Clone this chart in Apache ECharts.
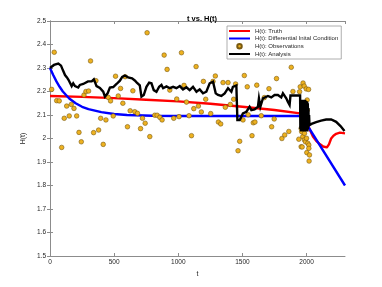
<!DOCTYPE html>
<html><head><meta charset="utf-8">
<script src="https://cdn.jsdelivr.net/npm/echarts@6/dist/echarts.min.js"></script>
<style>html,body{margin:0;padding:0;background:#fff;}#c{width:382px;height:287px;}</style>
</head><body><div id="c"></div>
<script>
// ---- data ----
const xTicks = [0, 500, 1000, 1500, 2000];
const yTicks = [1.5, 1.6, 1.7, 1.8, 1.9, 2.0, 2.1, 2.2, 2.3, 2.4, 2.5];

const truthT = [0, 250, 500, 750, 1000, 1250, 1500, 1750, 1950, 1975, 2000, 2025, 2050, 2075, 2100, 2130, 2158, 2175, 2192, 2210, 2231, 2260, 2300];
const truthH = [2.181, 2.177, 2.172, 2.165, 2.158, 2.148, 2.135, 2.121, 2.107, 2.10, 2.075, 2.038, 2.008, 1.99, 1.978, 1.966, 1.962, 1.975, 2.0, 2.012, 2.02, 2.025, 2.022];

const diffT = [0, 25, 50, 75, 100, 150, 200, 250, 300, 400, 500, 600, 800, 1000, 1500, 1960, 2300];
const diffH = [2.30, 2.27, 2.243, 2.22, 2.20, 2.17, 2.15, 2.135, 2.125, 2.112, 2.104, 2.10, 2.097, 2.096, 2.096, 2.096, 1.80];

const obsT = [13, 33, 52, 72, 91, 111, 130, 150, 166, 187, 208, 226, 244, 265, 280, 301, 316, 340, 358, 379, 395, 415, 436, 454, 472, 493, 511, 532, 550, 568, 586, 604, 625, 646, 661, 682, 706, 721, 742, 757, 778, 817, 835, 856, 874, 890, 913, 934, 965, 988, 1006, 1025, 1045, 1064, 1084, 1103, 1121, 1139, 1157, 1180, 1196, 1214, 1253, 1271, 1289, 1313, 1331, 1349, 1367, 1388, 1406, 1432, 1447, 1466, 1479, 1505, 1515, 1538, 1545, 1575, 1585, 1598, 1612, 1647, 1671, 1707, 1728, 1748, 1766, 1808, 1830, 1862, 1881, 1894, 1940, 1946, 1951, 1958, 1958, 1962, 1966, 1971, 1973, 1982, 1984, 1984, 1990, 1992, 1998, 2000, 2000, 2002, 2005, 2005, 2010, 2016, 2018, 2018, 2020, 2023];
const obsH = [2.209, 2.367, 2.161, 2.160, 1.962, 2.086, 2.138, 2.096, 2.145, 2.128, 2.096, 2.026, 1.986, 2.185, 2.200, 2.202, 2.330, 2.025, 2.246, 2.036, 2.086, 1.975, 2.079, 2.175, 2.160, 2.096, 2.265, 2.181, 2.213, 2.150, 2.263, 2.050, 2.118, 2.203, 2.114, 2.107, 2.042, 2.086, 2.065, 2.450, 2.008, 2.099, 2.099, 2.090, 2.079, 2.355, 2.294, 2.206, 2.086, 2.168, 2.093, 2.365, 2.226, 2.155, 2.097, 2.012, 2.127, 2.306, 2.138, 2.113, 2.243, 2.167, 2.106, 2.243, 2.266, 2.070, 2.062, 2.238, 2.133, 2.238, 2.145, 2.167, 2.232, 1.948, 1.988, 2.079, 2.268, 2.220, 2.101, 2.012, 2.067, 2.070, 2.227, 2.097, 2.174, 2.212, 2.050, 2.083, 2.255, 2.000, 2.015, 2.030, 2.303, 2.200, 1.997, 2.199, 2.220, 2.043, 1.965, 2.029, 1.964, 2.008, 2.236, 2.223, 2.022, 1.994, 2.060, 1.986, 2.211, 2.079, 2.001, 1.940, 2.164, 2.120, 1.980, 2.209, 1.972, 1.958, 1.904, 1.930];

const anaT = [0, 31, 65, 86, 101, 117, 132, 144, 156, 169, 181, 195, 220, 233, 241, 259, 272, 296, 325, 342, 350, 363, 389, 415, 428, 449, 467, 493, 519, 545, 563, 584, 609, 640, 661, 677, 700, 713, 731, 752, 773, 791, 809, 830, 851, 869, 882, 908, 934, 960, 986, 1012, 1037, 1064, 1089, 1115, 1142, 1167, 1193, 1219, 1245, 1271, 1292, 1310, 1336, 1362, 1388, 1414, 1426, 1440, 1453, 1461, 1479, 1492, 1504, 1531, 1543, 1556, 1570, 1595, 1621, 1629, 1640, 1660, 1673, 1699, 1725, 1751, 1777, 1803, 1816, 1829, 1842, 1854, 1868, 1875, 1907, 1950, 1952, 1955, 1957, 1960, 1962, 1965, 1967, 1970, 1972, 1975, 1977, 1980, 1982, 1985, 1987, 1990, 1992, 1995, 1997, 2000, 2002, 2005, 2007, 2010, 2012, 2015, 2017, 2020, 2023, 2039, 2075, 2114, 2153, 2192, 2231, 2265, 2296];
const anaH = [2.30, 2.313, 2.319, 2.31, 2.29, 2.27, 2.26, 2.25, 2.242, 2.223, 2.235, 2.223, 2.217, 2.228, 2.235, 2.232, 2.24, 2.243, 2.243, 2.252, 2.253, 2.223, 2.215, 2.199, 2.178, 2.192, 2.217, 2.219, 2.232, 2.246, 2.262, 2.268, 2.26, 2.256, 2.247, 2.238, 2.226, 2.178, 2.185, 2.22, 2.238, 2.235, 2.206, 2.199, 2.22, 2.228, 2.214, 2.222, 2.214, 2.22, 2.214, 2.223, 2.209, 2.218, 2.206, 2.22, 2.199, 2.209, 2.192, 2.199, 2.235, 2.242, 2.192, 2.185, 2.181, 2.192, 2.214, 2.199, 2.22, 2.228, 2.226, 2.079, 2.079, 2.093, 2.107, 2.114, 2.121, 2.135, 2.121, 2.124, 2.135, 2.171, 2.135, 2.171, 2.178, 2.181, 2.175, 2.185, 2.185, 2.175, 2.192, 2.192, 2.171, 2.157, 2.143, 2.183, 2.183, 2.183, 2.04, 2.16, 2.03, 2.165, 2.05, 2.15, 2.03, 2.16, 2.04, 2.165, 2.035, 2.155, 2.03, 2.16, 2.045, 2.165, 2.03, 2.15, 2.035, 2.16, 2.04, 2.155, 2.03, 2.15, 2.04, 2.13, 2.05, 2.10, 2.057, 2.062, 2.07, 2.076, 2.081, 2.081, 2.071, 2.053, 2.032];

const names = ['H(t): Truth', 'H(t): Differential Inital Condition', 'H(t): Observations', 'H(t): Analysis'];

function zip(a, b) { return a.map((v, i) => [v, b[i]]); }

const FONT = 'Liberation Sans, Arial, sans-serif';
const AX = '#8c8c8c';
const TXT = '#262626';
const LINE_ICON = 'path://M0,0L42,0L42,4L0,4Z';

const chart = echarts.init(document.getElementById('c'), null, { renderer: 'canvas' });
const baseX = {
  type: 'value', min: 0, max: 2300, interval: 500,
  axisLine: { show: true, lineStyle: { color: AX, width: 1 } },
  axisTick: { show: true, inside: true, length: 3, lineStyle: { color: AX } },
  splitLine: { show: false }
};
const baseY = {
  type: 'value', min: 1.5, max: 2.5, interval: 0.1,
  axisLine: { show: true, lineStyle: { color: AX, width: 1 } },
  axisTick: { show: true, inside: true, length: 3, lineStyle: { color: AX } },
  splitLine: { show: false }
};

chart.setOption({
  animation: false,
  backgroundColor: '#fff',
  title: {
    text: 't vs. H(t)', left: 197, top: 10, textAlign: 'center',
    textStyle: { fontFamily: FONT, fontSize: 7.5, fontWeight: 'bold', color: '#000' }
  },
  grid: { left: 50, right: 37, top: 21, bottom: 31 },
  legend: {
    data: [
      { name: names[0], icon: LINE_ICON },
      { name: names[1], icon: LINE_ICON },
      { name: names[2], icon: 'circle' },
      { name: names[3], icon: LINE_ICON }
    ],
    orient: 'vertical', left: 227, top: 26, symbolKeepAspect: true,
    padding: [2, 3, 2, 2], itemGap: 1.5, itemWidth: 21, itemHeight: 4.5,
    backgroundColor: '#fff', borderColor: '#9a9a9a', borderWidth: 0.8,
    textStyle: { fontFamily: FONT, fontSize: 6, color: TXT, lineHeight: 6 }
  },
  xAxis: [
    Object.assign({}, baseX, {
      position: 'bottom', name: 't', nameLocation: 'middle', nameGap: 14,
      nameTextStyle: { fontFamily: FONT, fontSize: 7, color: TXT },
      axisLabel: { fontFamily: FONT, fontSize: 6.5, color: TXT, margin: 3, showMaxLabel: false,
        formatter: v => (xTicks.indexOf(v) >= 0 ? String(v) : '') }
    }),
    Object.assign({}, baseX, { position: 'top', axisLabel: { show: false } })
  ],
  yAxis: [
    Object.assign({}, baseY, {
      position: 'left', name: 'H(t)', nameLocation: 'middle', nameGap: 18, nameRotate: 90,
      nameTextStyle: { fontFamily: FONT, fontSize: 7, color: TXT },
      axisLabel: { fontFamily: FONT, fontSize: 6.5, color: TXT, margin: 4,
        formatter: v => { const r = Math.round(v * 10) / 10; return yTicks.indexOf(r) >= 0 ? String(r) : ''; } }
    }),
    Object.assign({}, baseY, { position: 'right', axisLabel: { show: false } })
  ],
  series: [
    { name: names[0], type: 'line', data: zip(truthT, truthH), showSymbol: false, symbol: 'none',
      lineStyle: { color: '#ff0000', width: 2.4 }, itemStyle: { color: '#ff0000' }, z: 2 },
    { name: names[1], type: 'line', data: zip(diffT, diffH), showSymbol: false, symbol: 'none',
      lineStyle: { color: '#0000ff', width: 2.4 }, itemStyle: { color: '#0000ff' }, z: 3 },
    { name: names[2], type: 'scatter', data: zip(obsT, obsH), symbol: 'circle', symbolSize: 4.6,
      itemStyle: { color: '#EDB120', borderColor: '#7a5a10', borderWidth: 0.6, opacity: 1 }, z: 4 },
    { name: names[3], type: 'line', data: zip(anaT, anaH), showSymbol: false, symbol: 'none',
      lineStyle: { color: '#000000', width: 2.4, join: 'miter' }, itemStyle: { color: '#000' }, z: 5 }
  ]
});
</script></body></html>
